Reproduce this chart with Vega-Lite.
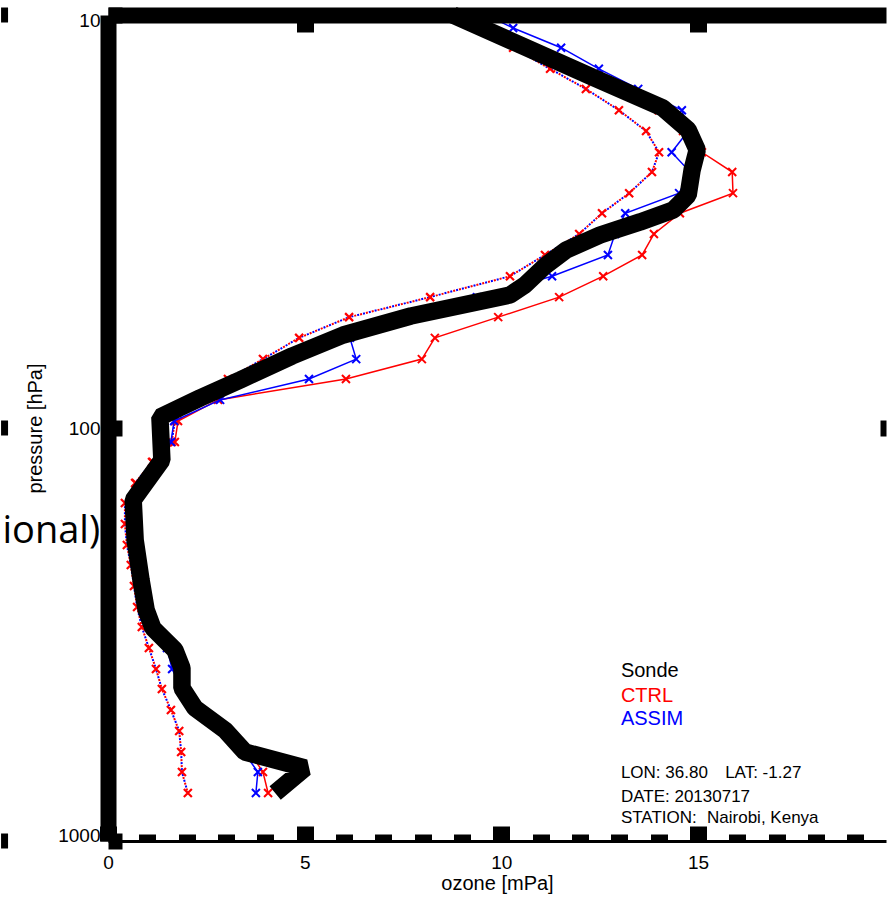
{
  "$schema": "https://vega.github.io/schema/vega-lite/v6.json",
  "width": 778,
  "height": 826,
  "autosize": {"type": "none"},
  "padding": {"left": 108, "top": 15, "right": 5, "bottom": 56},
  "background": "white",
  "config": {"view": {"stroke": null}, "font": "Liberation Sans"},
  "datasets": {
    "sonde": [{"o":8.77,"p":10.0},{"o":12.31,"p":14.13},{"o":14.11,"p":16.8},{"o":14.75,"p":18.98},{"o":14.98,"p":21.22},{"o":14.85,"p":23.73},{"o":14.75,"p":27.29},{"o":14.37,"p":29.66},{"o":13.53,"p":31.7},{"o":12.51,"p":34.1},{"o":11.65,"p":37.07},{"o":11.11,"p":40.53},{"o":10.6,"p":45.06},{"o":10.22,"p":47.64},{"o":7.7,"p":53.56},{"o":5.98,"p":59.54},{"o":4.68,"p":66.93},{"o":3.36,"p":76.5},{"o":2.34,"p":84.6},{"o":1.32,"p":94.1},{"o":1.37,"p":119.6},{"o":0.64,"p":149.4},{"o":0.69,"p":186.7},{"o":0.84,"p":233.4},{"o":0.97,"p":275.9},{"o":1.14,"p":305.1},{"o":1.7,"p":344.8},{"o":1.88,"p":381.1},{"o":1.88,"p":426.1},{"o":2.21,"p":476.4},{"o":2.97,"p":538.5},{"o":3.48,"p":608.8},{"o":5.01,"p":665.7},{"o":4.25,"p":765.3}],
    "dotted": [{"o":2.03,"p":765.2},{"o":1.88,"p":680.7},{"o":1.86,"p":608.8},{"o":1.81,"p":541.5},{"o":1.6,"p":481.8},{"o":1.37,"p":428.5},{"o":1.22,"p":383.2},{"o":1.04,"p":340.9},{"o":0.86,"p":303.2},{"o":0.74,"p":271.3},{"o":0.66,"p":241.3},{"o":0.58,"p":214.6},{"o":0.48,"p":192.0},{"o":0.43,"p":170.8},{"o":0.43,"p":151.9},{"o":0.69,"p":135.9},{"o":1.12,"p":120.9},{"o":1.62,"p":108.1},{"o":1.7,"p":96.2},{"o":2.08,"p":85.5},{"o":3.05,"p":76.1},{"o":3.94,"p":68.1},{"o":4.86,"p":60.5},{"o":6.13,"p":53.9},{"o":8.19,"p":48.2},{"o":10.22,"p":42.9},{"o":11.11,"p":38.1},{"o":11.98,"p":33.9},{"o":12.56,"p":30.2},{"o":13.25,"p":27.0},{"o":13.83,"p":24.0},{"o":14.01,"p":21.5},{"o":13.68,"p":19.1},{"o":12.99,"p":17.0},{"o":12.15,"p":15.1},{"o":11.24,"p":13.5},{"o":10.3,"p":12.0},{"o":9.4,"p":10.75}],
    "ctrl": [{"o":4.07,"p":765.2},{"o":3.94,"p":680.7},{"o":3.6,"p":608.8},{"o":2.97,"p":541.5},{"o":2.26,"p":481.8},{"o":1.9,"p":428.5},{"o":1.88,"p":383.2},{"o":1.63,"p":340.9},{"o":1.12,"p":303.2},{"o":0.94,"p":271.3},{"o":0.84,"p":241.3},{"o":0.76,"p":214.6},{"o":0.69,"p":192.0},{"o":0.66,"p":170.8},{"o":0.64,"p":151.9},{"o":0.71,"p":135.9},{"o":1.14,"p":120.9},{"o":1.7,"p":108.1},{"o":1.78,"p":96.2},{"o":2.8,"p":85.5},{"o":6.05,"p":76.1},{"o":7.98,"p":68.1},{"o":8.31,"p":60.5},{"o":9.92,"p":53.9},{"o":11.47,"p":48.2},{"o":12.59,"p":42.9},{"o":13.58,"p":38.1},{"o":13.88,"p":33.9},{"o":14.54,"p":30.2},{"o":15.89,"p":27.0},{"o":15.87,"p":24.0},{"o":15.1,"p":21.5},{"o":14.62,"p":19.1},{"o":14.0,"p":17.0},{"o":12.97,"p":15.1},{"o":11.85,"p":13.5},{"o":10.65,"p":12.0},{"o":9.5,"p":10.75}],
    "assim": [{"o":3.76,"p":765.2},{"o":3.81,"p":680.7},{"o":3.45,"p":608.8},{"o":2.95,"p":541.5},{"o":2.22,"p":481.8},{"o":1.88,"p":428.5},{"o":1.63,"p":383.2},{"o":1.5,"p":340.9},{"o":1.2,"p":303.2},{"o":0.97,"p":271.3},{"o":0.84,"p":241.3},{"o":0.76,"p":214.6},{"o":0.69,"p":192.0},{"o":0.66,"p":170.8},{"o":0.66,"p":151.9},{"o":0.95,"p":135.9},{"o":1.37,"p":120.9},{"o":1.6,"p":108.1},{"o":1.68,"p":96.2},{"o":2.85,"p":85.5},{"o":5.11,"p":76.1},{"o":6.31,"p":68.1},{"o":6.15,"p":60.5},{"o":7.55,"p":53.9},{"o":9.38,"p":48.2},{"o":11.29,"p":42.9},{"o":12.71,"p":38.1},{"o":12.89,"p":33.9},{"o":13.15,"p":30.2},{"o":14.52,"p":27.0},{"o":14.8,"p":24.0},{"o":14.33,"p":21.5},{"o":14.75,"p":19.1},{"o":14.59,"p":17.0},{"o":13.48,"p":15.1},{"o":12.48,"p":13.5},{"o":11.52,"p":12.0},{"o":10.3,"p":10.75},{"o":9.71,"p":10.1}],
    "legend": [{"label":"Sonde","o":13.04,"p":400.8},{"label":"CTRL","o":13.04,"p":460.6},{"label":"ASSIM","o":13.04,"p":523.8}],
    "info": [{"t":"LON: 36.80","o":13.04,"p":704.0},{"t":"LAT: -1.27","o":15.69,"p":704.0},{"t":"DATE: 20130717","o":13.04,"p":804.6},{"t":"STATION:","o":13.04,"p":904.4},{"t":"Nairobi, Kenya","o":15.23,"p":904.4}],
    "artifact": [{"t":"ional)","o":-0.2,"p":189.9}],
    "stray": [{"o":-2.63,"p":10},{"o":-2.63,"p":100},{"o":-2.63,"p":1000}]
  },
  "layer": [
    {
      "data": {"name": "dotted"},
      "mark": {"type": "line", "color": "#0000ff", "strokeWidth": 2, "strokeDash": [2, 4]},
      "encoding": {
        "x": {"field": "o", "type": "quantitative", "scale": {"domain": [0, 19.78], "nice": false, "zero": false},
          "axis": {"orient": "bottom", "values": [0,1,2,3,4,5,6,7,8,9,10,11,12,13,14,15,16,17,18,19],
            "title": "ozone [mPa]", "titleFontSize": 20, "titleFontWeight": "normal", "titleColor": "black", "titlePadding": -7,
            "labelExpr": "datum.value % 5 === 0 ? datum.label : ''", "labelFontSize": 19, "labelColor": "black", "labelFlush": false, "labelOverlap": false, "labelPadding": 27,
            "domainColor": "black", "domainWidth": 3,
            "tickColor": "black", "tickWidth": 17, "tickSize": {"condition": {"test": "datum.value % 5 === 0", "value": -15}, "value": -7},
            "grid": false, "zindex": 1}},
        "y": {"field": "p", "type": "quantitative", "scale": {"type": "log", "domain": [10, 1000], "reverse": true, "nice": false},
          "axis": {"orient": "left", "values": [10, 100, 1000], "format": "d", "title": "pressure [hPa]", "titleFontSize": 20, "titleFontWeight": "normal", "titleColor": "black", "titlePadding": 12,
            "labelFontSize": 19, "labelColor": "black", "labelFlush": true, "labelFlushOffset": 4, "labelPadding": 22,
            "domainColor": "black", "domainWidth": 16, "tickColor": "black", "tickWidth": 16, "tickSize": -14,
            "grid": false, "zindex": 1}},
        "order": {"field": "p", "type": "quantitative"}
      }
    },
    {
      "data": {"name": "dotted"},
      "mark": {"type": "line", "color": "#ff0000", "strokeWidth": 2, "strokeDash": [2, 4], "strokeDashOffset": 3},
      "encoding": {
        "x": {"field": "o", "type": "quantitative", "axis": null},
        "y": {"field": "p", "type": "quantitative", "axis": null},
        "order": {"field": "p", "type": "quantitative"}
      }
    },
    {
      "data": {"name": "dotted"},
      "mark": {"type": "point", "shape": "M-1,-1L1,1M1,-1L-1,1", "filled": false, "color": "#ff0000", "strokeWidth": 2.2, "size": 64, "opacity": 1},
      "encoding": {
        "x": {"field": "o", "type": "quantitative", "axis": null},
        "y": {"field": "p", "type": "quantitative", "axis": null}
      }
    },
    {
      "data": {"name": "ctrl"},
      "mark": {"type": "line", "color": "#ff0000", "strokeWidth": 1.5},
      "encoding": {
        "x": {"field": "o", "type": "quantitative",
          "axis": {"orient": "top", "values": [5, 15], "labels": false, "title": null,
            "domainColor": "black", "domainWidth": 16, "tickColor": "black", "tickWidth": 17, "tickSize": -17, "grid": false, "zindex": 1}},
        "y": {"field": "p", "type": "quantitative",
          "axis": {"orient": "right", "values": [100], "labels": false, "title": null, "domain": false,
            "tickColor": "black", "tickWidth": 16, "tickSize": -6, "grid": false, "zindex": 1}},
        "order": {"field": "p", "type": "quantitative"}
      }
    },
    {
      "data": {"name": "ctrl"},
      "mark": {"type": "point", "shape": "M-1,-1L1,1M1,-1L-1,1", "filled": false, "color": "#ff0000", "strokeWidth": 2, "size": 64, "opacity": 1},
      "encoding": {
        "x": {"field": "o", "type": "quantitative", "axis": null},
        "y": {"field": "p", "type": "quantitative", "axis": null}
      }
    },
    {
      "data": {"name": "assim"},
      "mark": {"type": "line", "color": "#0000ff", "strokeWidth": 1.5},
      "encoding": {
        "x": {"field": "o", "type": "quantitative", "axis": null},
        "y": {"field": "p", "type": "quantitative", "axis": null},
        "order": {"field": "p", "type": "quantitative"}
      }
    },
    {
      "data": {"name": "assim"},
      "mark": {"type": "point", "shape": "M-1,-1L1,1M1,-1L-1,1", "filled": false, "color": "#0000ff", "strokeWidth": 2, "size": 64, "opacity": 1},
      "encoding": {
        "x": {"field": "o", "type": "quantitative", "axis": null},
        "y": {"field": "p", "type": "quantitative", "axis": null}
      }
    },
    {
      "data": {"name": "sonde"},
      "mark": {"type": "line", "color": "black", "strokeWidth": 17.5, "strokeJoin": "bevel", "strokeCap": "butt"},
      "encoding": {
        "x": {"field": "o", "type": "quantitative", "axis": null},
        "y": {"field": "p", "type": "quantitative", "axis": null},
        "order": {"field": "p", "type": "quantitative"}
      }
    },
    {
      "data": {"name": "legend"},
      "mark": {"type": "text", "align": "left", "baseline": "alphabetic", "fontSize": 20, "font": "Liberation Sans"},
      "encoding": {
        "x": {"field": "o", "type": "quantitative", "axis": null},
        "y": {"field": "p", "type": "quantitative", "axis": null},
        "text": {"field": "label"},
        "color": {"field": "label", "type": "nominal", "scale": {"domain": ["Sonde", "CTRL", "ASSIM"], "range": ["black", "#ff0000", "#0000ff"]}, "legend": null}
      }
    },
    {
      "data": {"name": "info"},
      "mark": {"type": "text", "align": "left", "baseline": "alphabetic", "fontSize": 17, "font": "Liberation Sans", "color": "black"},
      "encoding": {
        "x": {"field": "o", "type": "quantitative", "axis": null},
        "y": {"field": "p", "type": "quantitative", "axis": null},
        "text": {"field": "t"}
      }
    },
    {
      "data": {"name": "artifact"},
      "mark": {"type": "text", "align": "right", "baseline": "alphabetic", "fontSize": 38, "font": "Open Sans", "color": "black"},
      "encoding": {
        "x": {"field": "o", "type": "quantitative", "axis": null},
        "y": {"field": "p", "type": "quantitative", "axis": null},
        "text": {"field": "t"}
      }
    },
    {
      "data": {"name": "stray"},
      "mark": {"type": "tick", "orient": "vertical", "color": "black", "size": 15, "thickness": 7, "opacity": 1},
      "encoding": {
        "x": {"field": "o", "type": "quantitative", "axis": null},
        "y": {"field": "p", "type": "quantitative", "axis": null}
      }
    }
  ],
  "resolve": {"axis": {"x": "independent", "y": "independent"}}
}
